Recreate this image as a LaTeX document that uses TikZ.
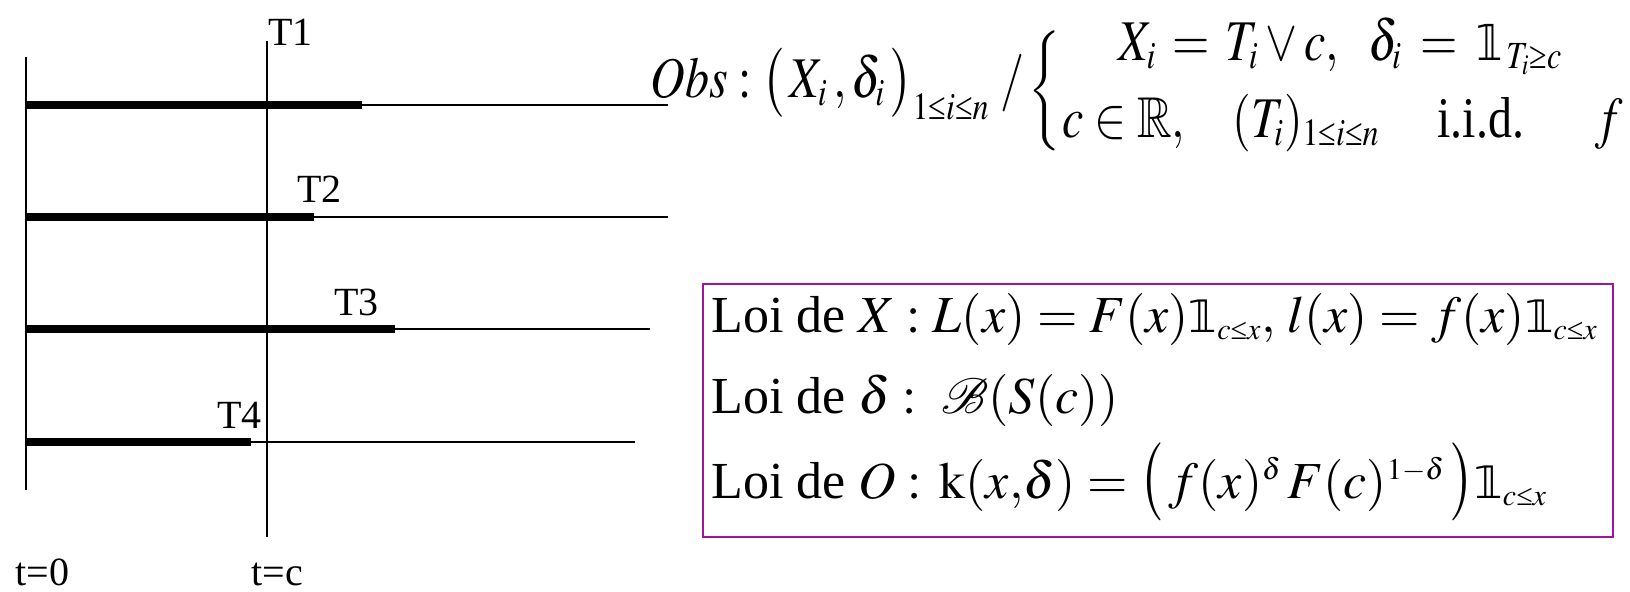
\documentclass[tikz,border=0pt]{standalone}
\usepackage{amsmath,amssymb}
\usepackage{mathptmx}
\usepackage{mathrsfs}
\usepackage{graphicx}
\usepackage[no-math]{fontspec}
\setmainfont{Liberation Serif}
\newfontfamily\indfont{DejaVu Sans}[Scale=0.86]
\DeclareMathSizes{26}{26}{15}{11}
\DeclareMathSizes{24}{24}{16}{12}
\DeclareMathSizes{20}{20}{12}{9}
\definecolor{boxc}{RGB}{160,20,160}
\newcommand\indic{\mathord{\mbox{\indfont 𝟙}}}
\newcommand\lle{\mathrel{\text{≤}}}
\newcommand\gge{\mathrel{\text{≥}}}
\newcommand\vst[1]{\scalebox{1}[1.2]{#1}}
\newcommand\tallp[1]{\mathopen{\scalebox{1}[1.25]{$\bigl#1$}}}
\newcommand\tallq[1]{\mathclose{\scalebox{1}[1.25]{$\bigr#1$}}}
\tikzset{
  axisline/.style={line width=0.75pt},
  thickseg/.style={line width=4pt},
  thinseg/.style={line width=0.7pt},
  lbl/.style={inner sep=0pt,anchor=base west,font=\fontsize{20}{24}\selectfont},
  obsf/.style={inner sep=0pt,anchor=base west,font=\fontsize{24}{28}\selectfont},
  brf/.style={inner sep=0pt,anchor=base west,font=\fontsize{24}{28}\selectfont},
  boxf/.style={inner sep=0pt,anchor=base west,font=\fontsize{26}{30}\selectfont},
  lawbox/.style={draw=boxc,line width=1pt}
}
\begin{document}
\begin{tikzpicture}[x=0.5pt,y=-0.5pt]
\useasboundingbox (0,0) rectangle (1630,591);
% axes
\coordinate (a0t) at (26,57);  \coordinate (a0b) at (26,490);
\coordinate (act) at (267,41); \coordinate (acb) at (267,537);
\draw[axisline] (a0t) -- (a0b);
\draw[axisline] (act) -- (acb);
% trajectories
\foreach \i/\y/\xe/\xf in {1/105/362/668, 2/217/314/668, 3/329/395/650, 4/442/251/635}{
  \coordinate (s\i) at (26,\y);
  \coordinate (e\i) at (\xe,\y);
  \coordinate (f\i) at (\xf,\y);
  \draw[thinseg] (e\i) -- (f\i);
  \draw[thickseg] (s\i) -- (e\i);
}
% labels
\node[lbl] (T1) at (268,45) {T1};
\node[lbl] (T2) at (297,202) {T2};
\node[lbl] (T3) at (334,315) {T3};
\node[lbl] (T4) at (217,428) {T4};
\node[lbl] (t0) at (15,585) {t=0};
\node[lbl] (tc) at (251,585) {t=c};
% observation formula
\node[obsf] (obs) at (650,97) {\vst{$\mathit{Obs}:\bigl(\,X_{i}\,,\delta_{i}\,\bigr)_{1\lle i\lle n}\;/$}};
\node[inner sep=0pt,font=\fontsize{20}{24}\selectfont] (brace) at (1046,92) {$\left\{\vrule height 26pt depth 26pt width 0pt\right.$};
\node[brf] (r1a) at (1118,60) {\vst{$X_{i}\mkern2mu=\mkern2mu T_{i}\vee c,$}};
\node[brf] (r1b) at (1368,60) {\vst{$\delta_{i}\mkern3mu=\mkern3mu\indic_{\,T_{i}\gge c}$}};
\node[brf] (r2a) at (1062,137) {\vst{$c\in\mathbb{R},$}};
\node[brf] (r2b) at (1232,137) {\vst{$(T_{i})_{1\lle i\lle n}$}};
\node[brf] (r2c) at (1437,137) {\vst{i.i.d.}};
\node[brf] (r2d) at (1595,137) {\vst{$f$}};
% laws box
\draw[lawbox] (703,284) rectangle (1613,537);
\node[boxf] (l1) at (711,332) {Loi de $X:L(x)=F(x)\indic_{c\lle x},\,l(x)=f(x)\indic_{c\lle x}$};
\node[boxf] (l2) at (711,413) {Loi de $\delta:\ \mathscr{B}(S(c))$};
\node[boxf] (l3) at (711,498) {Loi de $O:\,\mathrm{k}(x{,}\delta)=\tallp(\,f(x)^{\delta}\,F(c)^{1-\delta}\,\tallq)\indic_{c\lle x}$};
\end{tikzpicture}
\end{document}
